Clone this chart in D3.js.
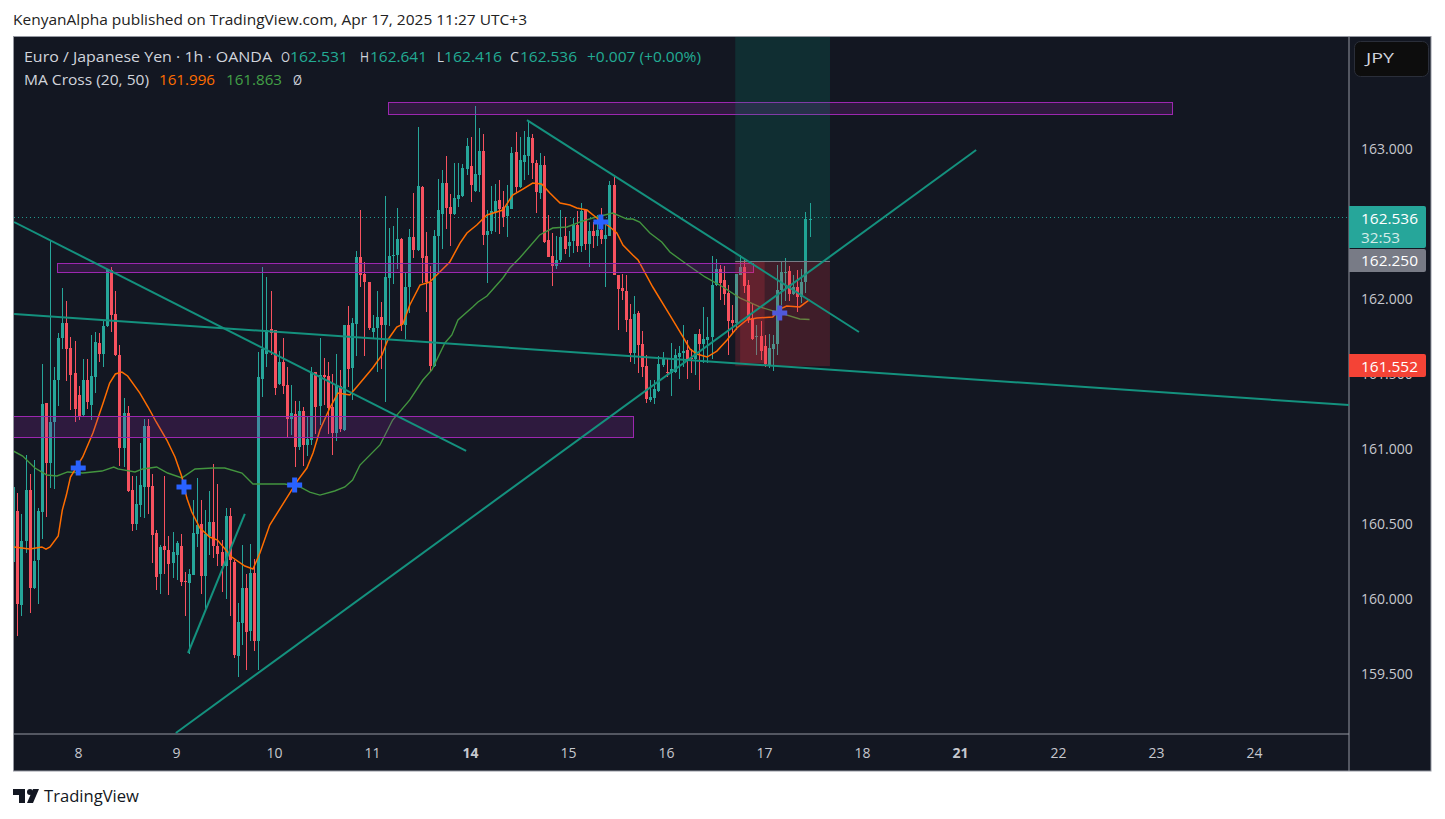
<!DOCTYPE html>
<html><head><meta charset="utf-8">
<script src="https://d3js.org/d3.v7.min.js"></script>
<style>html,body{margin:0;padding:0;background:#fff;overflow:hidden}svg{display:block}text{font-family:"Open Sans",Roboto,sans-serif}</style>
</head><body><svg id="c" width="1445" height="819"></svg>
<script>
const opens=[160.247,160.587,159.96,160.387,160.727,160.073,160.26,160.58,161.307,160.907,
161.18,161.46,161.74,161.84,161.673,161.507,161.36,161.227,161.46,161.293,
161.48,161.707,161.633,161.82,162.193,161.9,161.627,161.007,161.24,160.727,
160.5,160.627,160.747,161.153,160.753,160.44,160.167,160.353,160.327,160.24,
160.293,160.353,160.12,160.107,160.16,160.433,160.5,160.153,160.42,160.513,
160.353,160.313,160.22,160.553,160.247,159.62,159.84,160.073,159.787,160.173,
159.72,161.467,161.633,161.8,161.793,161.433,161.58,161.427,161.2,161.233,
161.013,161.253,161.027,161.06,161.513,161.287,161.493,161.487,161.28,161.107,
161.42,161.127,161.827,161.54,161.833,162.28,162.167,162.113,161.78,161.807,
161.88,161.827,162.14,162.287,162.293,162.4,161.827,162.08,162.413,162.327,
162.747,162.287,162.113,161.553,162.42,162.567,162.773,162.613,162.567,162.667,
162.687,162.867,162.887,162.72,162.827,162.987,162.427,162.453,162.58,162.66,
162.613,162.553,162.6,162.98,162.747,162.913,162.953,163.073,162.907,162.707,
162.893,162.393,162.287,162.22,162.26,162.42,162.353,162.387,162.493,162.353,
162.593,162.367,162.453,162.42,162.46,162.4,162.42,162.76,162.16,162.073,
162.053,161.867,161.64,161.907,161.7,161.553,161.327,161.34,161.387,161.56,
161.513,161.507,161.513,161.613,161.64,161.66,161.607,161.6,161.767,161.7,
161.727,161.747,162.093,162.2,162.127,162.04,161.86,161.84,162.16,162.213,
162.093,161.873,161.747,161.753,161.687,161.56,161.667,161.7,162.06,162.173,
162.187,162.033,162.08,162.013,162.113,162.531];
const highs=[160.793,160.707,160.567,160.96,160.833,160.927,160.607,161.567,161.307,162.393,
161.547,161.773,162.073,161.987,161.747,161.72,161.42,161.6,161.6,161.76,
161.78,161.773,161.853,162.2,162.213,162.053,161.693,161.34,161.287,160.82,
160.82,161.04,161.2,161.2,160.833,160.46,160.36,160.82,160.42,160.447,
160.387,160.433,160.18,160.2,160.66,160.807,160.66,160.593,160.72,160.9,
160.767,160.393,160.607,160.607,160.26,159.973,160.36,160.167,160.367,160.267,
161.647,162.213,162.147,162.053,161.793,161.653,161.74,161.547,161.427,161.32,
161.32,161.28,161.22,161.547,161.513,161.74,161.607,161.58,161.5,161.633,
161.527,161.827,161.953,161.873,162.32,162.593,162.247,162.113,161.893,162.053,
161.98,162.687,162.473,162.487,162.607,162.407,162.18,162.467,162.707,163.147,
162.753,162.447,162.22,162.46,162.8,162.86,162.953,162.7,162.907,162.907,
162.9,163.073,163.08,163.287,163.14,163.1,162.593,162.753,162.767,162.793,
162.72,162.76,163.013,163.113,163.08,163.12,163.187,163.1,162.927,162.973,
162.953,162.56,162.44,162.42,162.593,162.547,162.453,162.54,162.587,162.64,
162.593,162.513,162.513,162.56,162.607,162.493,162.787,162.813,162.16,162.167,
162.16,161.967,162.02,161.92,161.787,161.627,161.46,161.46,161.62,161.647,
161.6,161.707,161.667,161.687,161.827,161.727,161.667,161.767,161.8,161.947,
161.88,162.287,162.267,162.227,162.22,162.093,161.96,162.167,162.293,162.26,
162.127,161.967,161.827,161.853,161.76,161.767,161.76,162.227,162.247,162.273,
162.22,162.16,162.193,162.2,162.58,162.641];
const lows=[160.16,159.753,159.887,160.307,159.907,160.07,159.967,160.4,160.547,160.74,
160.733,161.287,161.667,161.453,161.26,161.18,161.193,161.22,161.267,161.193,
161.373,161.58,161.547,161.813,161.78,161.62,160.887,160.88,160.715,160.453,
160.46,160.547,160.54,160.567,160.24,160.06,160.033,160.167,160.027,160.14,
160.127,160.087,159.887,159.633,160.16,160.347,160.033,159.927,160.293,160.273,
160.22,160.047,160,159.887,159.607,159.48,159.693,159.527,159.72,159.653,
159.527,161.347,161.547,161.627,161.36,161.43,161.367,161.08,161.093,160.88,
160.993,160.887,160.953,161.027,161.1,161.16,161.293,161.1,160.96,161.053,
161.113,161.12,161.413,161.327,161.62,162.08,161.62,161.793,161.733,161.513,
161.533,161.313,161.82,162.1,162.2,161.787,161.733,161.907,162.273,162.32,
162.107,161.913,161.513,161.55,162.18,162.333,162.467,162.353,162.56,162.613,
162.68,162.827,162.647,162.715,162.713,162.36,162.107,162.433,162.447,162.433,
162.48,162.413,162.6,162.713,162.74,162.793,162.827,162.8,162.573,162.667,
162.373,162.28,162.087,162.2,162.25,162.3,162.28,162.307,162.313,162.313,
162.327,162.213,162.34,162.353,162.367,162.08,162.42,162.16,161.793,161.993,
161.78,161.58,161.567,161.507,161.48,161.307,161.313,161.3,161.38,161.547,
161.48,161.353,161.51,161.467,161.547,161.467,161.507,161.493,161.393,161.573,
161.573,161.6,162.09,161.993,161.96,161.627,161.773,161.793,162.16,162.04,
161.84,161.727,161.627,161.593,161.547,161.54,161.52,161.627,161.96,161.987,
161.987,162.03,161.913,161.973,162.04,162.416];
const closes=[160.747,159.967,160.387,160.727,160.073,160.253,160.587,161.3,160.907,161.18,
161.46,161.74,161.84,161.667,161.493,161.267,161.22,161.46,161.313,161.487,
161.713,161.633,161.82,162.2,161.893,161.627,161.007,161.24,160.72,160.5,
160.633,160.76,161.153,160.747,160.427,160.147,160.347,160.327,160.233,160.313,
160.373,160.113,160.113,160.167,160.44,160.493,160.153,160.433,160.513,160.353,
160.3,160.22,160.553,160.26,159.627,159.847,160.073,159.78,160.173,159.72,
161.48,161.667,161.793,161.773,161.407,161.58,161.42,161.2,161.24,161.013,
161.253,161.027,161.067,161.507,161.28,161.493,161.48,161.273,161.107,161.427,
161.133,161.827,161.533,161.84,162.28,162.16,162.113,161.807,161.807,161.88,
161.827,162.147,162.287,162.293,162.4,161.827,162.08,162.413,162.327,162.753,
162.273,162.113,161.553,162.42,162.593,162.773,162.607,162.567,162.673,162.693,
162.873,163.02,162.76,162.833,162.987,162.427,162.453,162.587,162.653,162.6,
162.547,162.62,162.973,162.747,162.927,162.96,163.08,162.907,162.713,162.893,
162.38,162.28,162.22,162.26,162.413,162.333,162.38,162.493,162.353,162.587,
162.367,162.453,162.42,162.46,162.4,162.427,162.76,162.16,162.067,162.053,
161.86,161.64,161.9,161.693,161.547,161.333,161.347,161.4,161.567,161.6,
161.507,161.533,161.627,161.64,161.653,161.6,161.6,161.767,161.7,161.733,
161.747,162.093,162.2,162.107,162.033,161.853,161.84,162.167,162.213,162.087,
161.86,161.733,161.753,161.653,161.567,161.673,161.7,162.06,162.18,162.18,
162.033,162.08,162.013,162.113,162.533,162.536];

const ma20Bars=[0,4,7,8,9,11,12,13,14,17,19.5,22,23.6,25,26.6,28,31,33,35,37.6,39.6,41.3,42.5,43.7,45.7,48.1,50,53.5,56.7,58.7,60.4,62.8,69.7,71.9,73.4,75.1,77.5,79.5,82.4,84.1,88,90.3,91.7,93.9,95.4,97.1,99.6,102,103.7,106.9,109.4,111.1,113.5,116,119.9,122.3,124.8,127.2,129.4,131.4,133.9,136.3,138,140.5,142.9,146.1,147.8,149.3,151.7,153,156.6,160.8,164,165.7,167.4,169.9,172.3,174.8,177.2,179.6,182.1,186,187.7,189.4,192.6,195];
const ma20Values=[160.347,160.333,160.347,160.333,160.347,160.42,160.593,160.693,160.813,160.947,161.107,161.307,161.44,161.5,161.513,161.487,161.373,161.28,161.18,161.06,160.947,160.813,160.673,160.58,160.473,160.413,160.393,160.28,160.22,160.2,160.307,160.493,160.793,160.873,160.973,161.127,161.273,161.373,161.36,161.413,161.54,161.627,161.727,161.813,161.833,161.96,162.093,162.113,162.16,162.247,162.373,162.44,162.493,162.56,162.593,162.693,162.733,162.773,162.767,162.707,162.64,162.627,162.607,162.593,162.54,162.48,162.44,162.36,162.293,162.26,162.08,161.893,161.747,161.667,161.633,161.613,161.653,161.727,161.807,161.86,161.873,161.88,161.933,161.953,161.947,161.996];
const ma50Bars=[0,2.3,5.3,8.2,10.7,13.3,17,21.7,24.6,25.6,29.8,31.7,35.1,37.8,41.3,44.5,48.9,51.8,56,58.7,62.8,66.5,70.2,72.6,75.1,78.7,81.2,83.1,84.9,89.8,92.9,97.1,100.3,102.5,105.7,107.4,108.9,112.5,113.8,116,119.9,121.6,124,128.9,132.1,135.6,138.7,141.9,146.8,150.3,151.7,153.4,155.9,158.8,160.8,164.5,169.4,173.8,177.9,182.8,187.7,192.6,195];
const ma50Values=[160.987,160.953,160.873,160.827,160.82,160.847,160.84,160.853,160.88,160.867,160.847,160.867,160.88,160.84,160.807,160.867,160.873,160.873,160.84,160.767,160.767,160.767,160.747,160.713,160.693,160.72,160.747,160.793,160.893,161.027,161.193,161.327,161.46,161.527,161.707,161.76,161.86,161.947,161.98,162.02,162.14,162.207,162.273,162.427,162.473,162.48,162.513,162.54,162.573,162.533,162.533,162.513,162.44,162.38,162.313,162.24,162.147,162.08,162.007,161.947,161.907,161.867,161.863];
const crossBars=[15.9,41.8,68.9,143.9,187.7];
const crossPrices=[160.873,160.747,160.76,162.513,161.907];

const trendFromBar=[0.2,0.2,125.8,39.8,42.8];
const trendFromPrice=[162.513,161.9,163.193,159.107,159.64];
const trendToBar=[110.9,327.1,207.1,235.8,56.7];
const trendToPrice=[160.987,161.293,161.78,162.993,160.567];
const zoneFromBar=[91.8,10.9,-1];
const zoneToBar=[283.8,181.2,151.8];
const zoneHigh=[163.307,162.24,161.22];
const zoneLow=[163.233,162.18,161.08];
const positionBars=[176.8,200];
const innerStopBars=[178,184];
const positionEntry=162.25, positionStop=161.552, positionTarget=163.9, innerStopPrice=161.573;
const lastPrice=162.536;

const priceTicks=[163,162,161.5,161,160.5,160,159.5];
const dayTickBars=[16,40,64,88,112,136,160,184,208,232,256,280,304];
const dayLabels=["8","9","10","11","14","15","16","17","18","21","22","23","24"];
const boldDays=["14","21"];

const svg=d3.select("#c");
const L=13.5,R=1349,T=36.5,B=734,AR=1431,AB=771;
const x=d3.scaleLinear().domain([0,24]).range([13.3,111.3]);
const y=d3.scaleLinear().domain([163,162]).range([149,299]);
const UP="#26a69a",DN="#f7525f",LINE="#14917e";

svg.append("rect").attr("x",L).attr("y",T).attr("width",AR-L).attr("height",AB-T).attr("fill","#131722").attr("stroke","#9598a1");
svg.append("line").attr("x1",R).attr("x2",R).attr("y1",T).attr("y2",AB).attr("stroke","#9598a1");
svg.append("line").attr("x1",L).attr("x2",R).attr("y1",B).attr("y2",B).attr("stroke","#9598a1");
svg.append("clipPath").attr("id","p").append("rect").attr("x",14).attr("y",37).attr("width",R-14).attr("height",B-37);
const g=svg.append("g").attr("clip-path","url(#p)");

g.append("line").attr("x1",14).attr("x2",R).attr("y1",Math.floor(y(lastPrice))-.5).attr("y2",Math.floor(y(lastPrice))-.5).attr("stroke",UP).attr("stroke-dasharray","1 3").attr("stroke-opacity",.9);

const bars=d3.range(opens.length);
const col=i=>closes[i]>=opens[i]?UP:DN;
const cg=g.append("g").attr("shape-rendering","crispEdges");
cg.selectAll(".w").data(bars).join("rect").attr("x",i=>Math.round(x(i))).attr("width",1).attr("y",i=>y(highs[i])).attr("height",i=>y(lows[i])-y(highs[i])).attr("fill",col);
cg.selectAll(".b").data(bars).join("rect").attr("x",i=>Math.round(x(i))-1).attr("width",3).attr("y",i=>y(Math.max(opens[i],closes[i]))).attr("height",i=>Math.max(1,Math.abs(y(opens[i])-y(closes[i])))).attr("fill",col);

const lineGen=d3.line().x(d=>x(d[0])).y(d=>y(d[1]));
g.append("path").attr("d",lineGen(d3.zip(ma50Bars,ma50Values))).attr("fill","none").attr("stroke","#43953f").attr("stroke-width",1.4);
g.append("path").attr("d",lineGen(d3.zip(ma20Bars,ma20Values))).attr("fill","none").attr("stroke","#ff6d00").attr("stroke-width",1.5);
g.selectAll(".cr").data(crossBars).join("path").attr("d",d3.symbol(d3.symbolCross,125)).attr("transform",(d,i)=>`translate(${x(d)},${y(crossPrices[i])})`).attr("fill","#2962ff");

// zones
g.selectAll(".z").data(zoneFromBar).join("rect").attr("shape-rendering","crispEdges").attr("x",d=>x(d)).attr("width",(d,i)=>x(zoneToBar[i])-x(d)).attr("y",(d,i)=>y(zoneHigh[i])).attr("height",(d,i)=>y(zoneLow[i])-y(zoneHigh[i])).attr("fill","#9c27b0").attr("fill-opacity",.2).attr("stroke","#9c27b0").attr("stroke-width",1);
// position tool
const px=x(positionBars[0]),pw=x(positionBars[1])-px;
g.append("rect").attr("x",px).attr("width",pw).attr("y",y(positionTarget)).attr("height",y(positionEntry)-y(positionTarget)).attr("fill","#089981").attr("fill-opacity",.18);
g.append("rect").attr("x",px).attr("width",pw).attr("y",y(positionEntry)).attr("height",y(positionStop)-y(positionEntry)).attr("fill","#f23645").attr("fill-opacity",.2);
g.append("rect").attr("x",x(innerStopBars[0])).attr("width",x(innerStopBars[1])-x(innerStopBars[0])).attr("y",y(positionEntry)).attr("height",y(innerStopPrice)-y(positionEntry)).attr("fill","#f23645").attr("fill-opacity",.2);
g.append("line").attr("x1",px).attr("x2",px+pw).attr("y1",y(positionEntry)).attr("y2",y(positionEntry)).attr("stroke","#787b86");
// trend lines
g.selectAll(".t").data(trendFromBar).join("line").attr("x1",d=>x(d)).attr("y1",(d,i)=>y(trendFromPrice[i])).attr("x2",(d,i)=>x(trendToBar[i])).attr("y2",(d,i)=>y(trendToPrice[i])).attr("stroke",LINE).attr("stroke-width",2);

// price axis
const ya=d3.axisRight(y).tickValues(priceTicks).tickFormat(d3.format(".3f")).tickSize(0).tickPadding(12);
const yg=svg.append("g").attr("transform",`translate(${R},0)`).call(ya);
yg.select(".domain").remove();
yg.selectAll("text").attr("fill","#c6c8ce").attr("font-size",14).attr("font-family","'Open Sans'");
// time axis
const xa=d3.axisBottom(x).tickValues(dayTickBars).tickFormat((d,i)=>dayLabels[i]).tickSize(0).tickPadding(14);
const xg=svg.append("g").attr("transform",`translate(0,${B})`).call(xa);
xg.select(".domain").remove();
xg.selectAll("text").attr("fill","#c6c8ce").attr("font-size",14).attr("font-weight",(d,i)=>boldDays.includes(dayLabels[i])?700:400).attr("dx",-.6);

// tags
const tag=(y0,h,c)=>svg.append("path").attr("d",`M${R},${y0}H${R+75}a2,2 0 0 1 2,2V${y0+h-2}a2,2 0 0 1 -2,2H${R}Z`).attr("fill",c);
const tx=(t,xx,yy,c,fs,w,o)=>{const e=svg.append("text").attr("x",xx).attr("y",yy).attr("fill",c).attr("font-size",fs).text(t);if(w)e.attr("textLength",w).attr("lengthAdjust","spacingAndGlyphs");if(o)e.attr("font-weight",o);return e;};
tag(206,42,"#26a69a");tag(249,23,"#787b86");tag(354,23,"#f44336");
const fmt=d3.format(".3f");
tx(fmt(lastPrice),1361,224,"#fff",14,57);tx("32:53",1361,243,"#d4ece9",14,39);
tx(fmt(positionEntry),1361,266,"#fff",14,57);tx(fmt(positionStop),1361,372,"#fff",14,57);
svg.append("rect").attr("x",1354.5).attr("y",41.5).attr("width",74).attr("height",35).attr("rx",6).attr("fill","#0d0d0d").attr("stroke","#2a2e39");
tx("JPY",1366,63,"#d1d4dc",14,28);

// header
const G="#22ab94",W="#d1d4dc";
tx("KenyanAlpha published on TradingView.com, Apr 17, 2025 11:27 UTC+3",13,25,"#222",14,514);
tx("Euro / Japanese Yen · 1h · OANDA",24,62,W,14,248);
tx("O",281,62,W,14,9);tx("162.531",290,62,G,14,58);
tx("H",360,62,W,14,9);tx("162.641",370,62,G,14,57);
tx("L",437,62,W,14,7);tx("162.416",444,62,G,14,58);
tx("C",510,62,W,14,9);tx("162.536",520,62,G,14,57);
tx("+0.007 (+0.00%)",587,62,G,14,114);
tx("MA Cross (20, 50)",24,85,W,14,125);
tx("161.996",159,85,"#ff6d00",14,56);tx("161.863",226,85,"#43a047",14,56);tx("Ø",293,85,W,14,9);

// footer logo
svg.append("path").attr("d","M13,789H25V803H19V795H13ZM27,803L33,789H39L33,803Z").attr("fill","#131722");
svg.append("circle").attr("cx",30).attr("cy",792).attr("r",3).attr("fill","#131722");
tx("TradingView",44,802,"#131722",17,95).attr("font-family","Lato");
</script></body></html>
